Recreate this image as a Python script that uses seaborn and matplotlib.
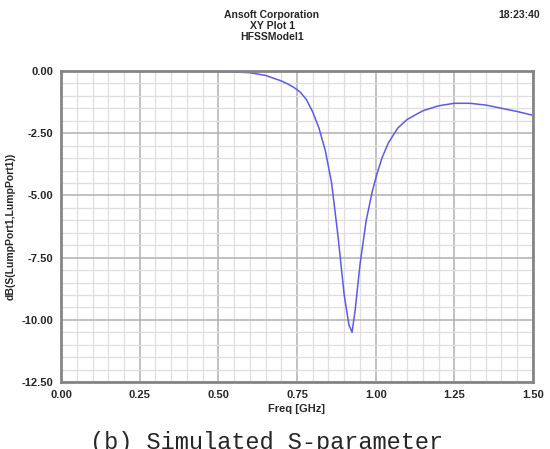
import numpy as np
import pandas as pd
import matplotlib
matplotlib.use("Agg")
import matplotlib.pyplot as plt
from matplotlib.ticker import MultipleLocator, FormatStrFormatter
import seaborn as sns

# S11
freq_ghz = [0.0, 0.1, 0.2, 0.3, 0.4, 0.45, 0.5, 0.55, 0.6, 0.65, 0.7, 0.72,
            0.74, 0.76, 0.78, 0.8, 0.82, 0.84, 0.86, 0.88, 0.90, 0.915, 0.925,
            0.935, 0.95, 0.97, 0.99, 1.005, 1.02, 1.04, 1.07, 1.10, 1.15,
            1.20, 1.25, 1.30, 1.35, 1.40, 1.45, 1.50]
s11_db = [0.0, 0.0, 0.0, -0.005, -0.01, -0.015, -0.02, -0.04, -0.07, -0.18,
          -0.4, -0.52, -0.66, -0.85, -1.15, -1.65, -2.3, -3.2, -4.5, -6.6,
          -9.0, -10.2, -10.5, -9.6, -7.8, -6.0, -4.8, -4.1, -3.5, -2.9, -2.3,
          -1.95, -1.6, -1.4, -1.3, -1.3, -1.37, -1.5, -1.63, -1.78]
xticks = [0.0, 0.25, 0.5, 0.75, 1.0, 1.25, 1.5]
yticks = [0.0, -2.5, -5.0, -7.5, -10.0, -12.5]

df = pd.DataFrame({"freq": freq_ghz, "s11": s11_db})

sns.set_style("white")
plt.rcParams["font.family"] = ["Liberation Sans", "DejaVu Sans"]

fig = plt.figure(figsize=(5.5, 4.49), dpi=100)
ax = fig.add_axes([0.111, 0.149, 0.858, 0.693])

sns.lineplot(data=df, x="freq", y="s11", ax=ax, color="#5a5aee", linewidth=1.1)

ax.set_xlim(0, 1.5)
ax.set_ylim(-12.5, 0)
ax.set_xticks(xticks)
ax.set_yticks(yticks)
ax.xaxis.set_minor_locator(MultipleLocator(0.05))
ax.yaxis.set_minor_locator(MultipleLocator(0.5))
ax.xaxis.set_major_formatter(FormatStrFormatter("%.2f"))
ax.yaxis.set_major_formatter(FormatStrFormatter("%.2f"))

ax.grid(which="minor", color="#dedede", linewidth=0.9)
ax.grid(which="major", color="#b0b0b0", linewidth=1.1)
ax.set_axisbelow(True)

for s in ax.spines.values():
    s.set_color("#858585")
    s.set_linewidth(2)

ax.tick_params(which="major", labelsize=8, length=3, width=1, color="#777777",
               direction="inout", pad=4)
ax.tick_params(which="minor", length=3, width=0.8, color="#888888", direction="inout")
for lab in ax.get_xticklabels() + ax.get_yticklabels():
    lab.set_fontweight("bold")

ax.set_xlabel("Freq [GHz]", fontsize=8, fontweight="bold", labelpad=3)
ax.set_ylabel("dB(S(LumpPort1,LumpPort1))", fontsize=7.5, fontweight="bold", labelpad=4)

tx = 272 / 550
fig.text(tx, 1 - 15 / 449, "Ansoft Corporation", ha="center", va="center",
         fontsize=7.5, fontweight="bold")
fig.text(tx, 1 - 26 / 449, "XY Plot 1", ha="center", va="center",
         fontsize=7.5, fontweight="bold")
fig.text(tx, 1 - 37 / 449, "HFSSModel1", ha="center", va="center",
         fontsize=7.5, fontweight="bold")
fig.text(540 / 550, 1 - 15 / 449, "18:23:40", ha="right", va="center",
         fontsize=7.5, fontweight="bold")

fig.text(0.484, 1 - 431 / 449, "(b) Simulated S-parameter", ha="center", va="top",
         fontsize=17, family=["Liberation Mono", "DejaVu Sans Mono"])

fig.savefig("out.png", dpi=100)
